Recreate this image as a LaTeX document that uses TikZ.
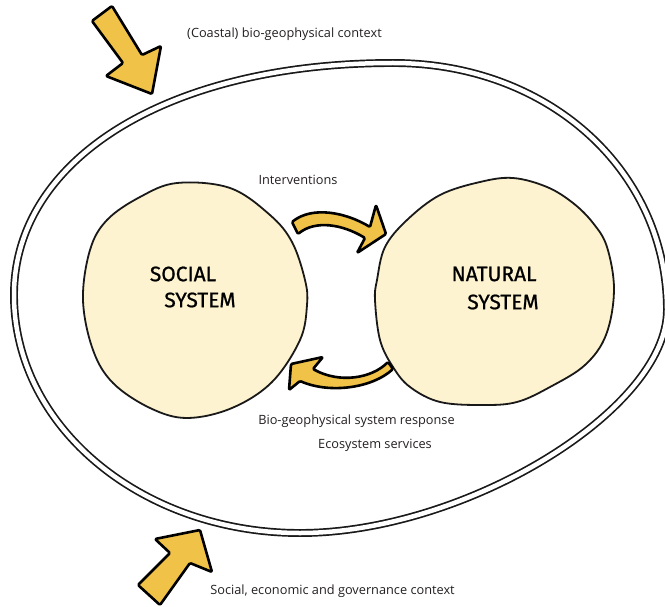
\documentclass[tikz,border=0pt]{standalone}
\usepackage{fontspec}
\setmainfont{Open Sans}
\newfontfamily\handfont[FakeBold=0.9]{Fira Sans}
\definecolor{cream}{RGB}{253,243,208}
\definecolor{arrowyellow}{RGB}{240,194,72}
\definecolor{inktext}{RGB}{35,31,32}
\begin{document}
\begin{tikzpicture}[x=1bp,y=-1bp,
  ringline/.style={draw=black!90, line width=1.7bp, double=white, double distance=4.5bp},
  systemblob/.style={draw=black!90, fill=cream, line width=1.8bp},
  fatarrow/.style={draw=black, fill=arrowyellow, line width=2.6bp, line join=round, rounded corners=1.2bp},
  ctxtext/.style={font=\fontsize{12.8}{15}\selectfont, text=inktext, inner sep=0pt},
  hand/.style={font=\handfont\fontsize{21}{23}\selectfont, text=black, inner sep=0pt}]
\useasboundingbox (0,0) rectangle (665,607);

% outer context ring
\draw[ringline] (14,295) .. controls (14,160) and (166,63) .. (393,63)
  .. controls (550,63) and (667,172) .. (667,310)
  .. controls (667,410) and (465,533) .. (300,533)
  .. controls (143,533) and (14,428) .. (14,295) -- cycle;

% social system
\draw[systemblob] plot[smooth cycle, tension=0.6] coordinates {
  (177,183) (230,188) (270,215) (292,242) (305,280) (307,305) (300,340)
  (272,382) (232,408) (187,418) (150,408) (113,383) (93,350) (83,300)
  (90,250) (107,220) (140,197)};
\coordinate (socialsys) at (195,300);

% natural system
\draw[systemblob] plot[smooth cycle, tension=0.6] coordinates {
  (480,182) (513,178) (547,187) (573,203) (593,223) (607,247) (614,290)
  (606,335) (585,365) (550,387) (517,402) (483,405) (440,402) (410,387)
  (393,367) (380,340) (375,300) (377,280) (385,247) (407,220) (440,195)};
\coordinate (naturalsys) at (494,292);

\node[hand] (social1) at (183,274) {SOCIAL};
\node[hand] (social2) at (200,300) {SYSTEM};
\node[hand] (natural1) at (494,274) {NATURAL};
\node[hand] (natural2) at (503,302) {SYSTEM};

% context arrows
\draw[fatarrow] (92,21) -- (112,6) -- (142,55) -- (161,46) -- (152,94) -- (106,76) -- (123,63) -- cycle;
\draw[fatarrow] (200,530) -- (155,539) -- (170,553) -- (138,585) -- (160,605) -- (190,563) -- (212,572) -- cycle;

% interventions arrow
\draw[fatarrow] (292,222) .. controls (312,206) and (345,212) .. (370,227) -- (376,205) -- (386,234)
  -- (357,253) -- (365,238) .. controls (342,224) and (315,220) .. (298,234) -- cycle;

% response arrow
\draw[fatarrow] (388,362) .. controls (372,378) and (340,384) .. (313,369) -- (323,357) -- (291,364)
  -- (289,390) -- (300,381) .. controls (330,394) and (372,388) .. (393,369) -- cycle;

\node[ctxtext] (coastal) at (284.5,34) {(Coastal) bio-geophysical context};
\node[ctxtext] (interv) at (298,180) {Interventions};
\node[ctxtext] (response) at (356.5,421) {Bio-geophysical system response};
\node[ctxtext] (ecoserv) at (375,445) {Ecosystem services};
\node[ctxtext] (socecon) at (332.5,591) {Social, economic and governance context};
\end{tikzpicture}
\end{document}
